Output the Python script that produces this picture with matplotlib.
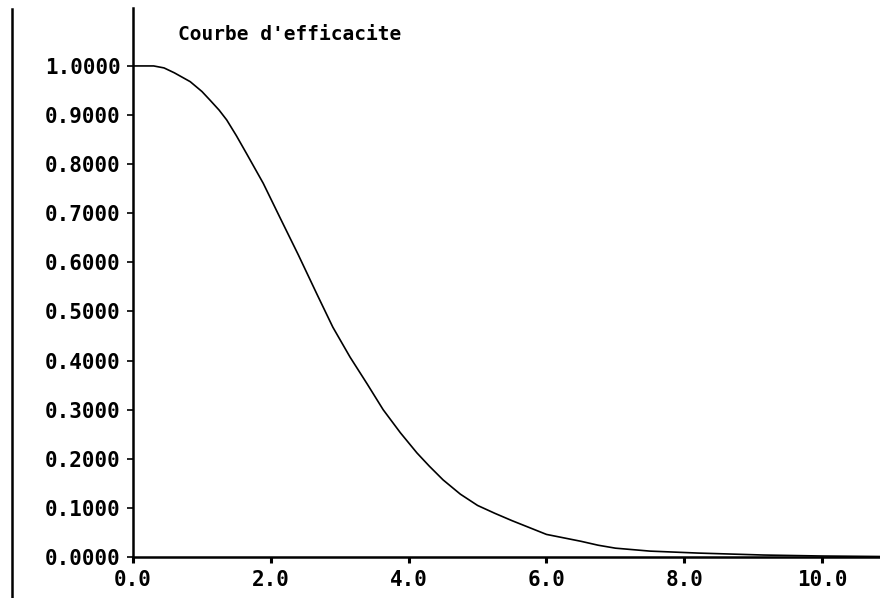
import matplotlib
matplotlib.use("Agg")
import matplotlib.pyplot as plt
from matplotlib.lines import Line2D

# Operating characteristic curve
x_vals = [0.0, 0.30, 0.45, 0.60, 0.83, 1.00, 1.12, 1.25, 1.36, 1.50, 1.65, 1.89,
          2.13, 2.40, 2.67, 2.90, 3.15, 3.40, 3.63, 3.88, 4.12, 4.30, 4.50,
          4.75, 5.00, 5.25, 5.50, 5.75, 6.00, 6.25, 6.50, 6.75, 7.00, 7.50,
          8.20, 9.15, 10.0, 10.84]
y_vals = [1.0, 1.0, 0.996, 0.986, 0.968, 0.948, 0.930, 0.910, 0.890, 0.858,
          0.821, 0.761, 0.692, 0.615, 0.535, 0.468, 0.407, 0.352, 0.300, 0.253,
          0.212, 0.185, 0.157, 0.128, 0.105, 0.089, 0.074, 0.060, 0.046, 0.039,
          0.032, 0.024, 0.018, 0.012, 0.008, 0.004, 0.002, 0.001]

x_ticks = [0, 2, 4, 6, 8, 10]
x_labels = ["0.0", "2.0", "4.0", "6.0", "8.0", "10.0"]
y_ticks = [0.0, 0.1, 0.2, 0.3, 0.4, 0.5, 0.6, 0.7, 0.8, 0.9, 1.0]
y_labels = ["%.4f" % v for v in y_ticks]
title = "Courbe d'efficacite"

font = "DejaVu Sans Mono"

fig = plt.figure(figsize=(8.8, 5.98), dpi=100)
ax = fig.add_axes([133 / 880, 41 / 598, 1 - 133 / 880, 549 / 598])

ax.plot(x_vals, y_vals, color="black", linewidth=1.2)

ax.set_xlim(0, 10.84)
ax.set_ylim(0, 1.118)

ax.set_xticks(x_ticks)
ax.set_xticklabels(x_labels, fontfamily=font, fontweight="bold", fontsize=15)
ax.set_yticks(y_ticks)
ax.set_yticklabels(y_labels, fontfamily=font, fontweight="bold", fontsize=15)

ax.tick_params(axis="x", direction="out", length=4, width=2.2, pad=5)
ax.tick_params(axis="y", direction="out", length=4, width=1.2, pad=5)

for side in ["top", "right"]:
    ax.spines[side].set_visible(False)
ax.spines["left"].set_linewidth(1.8)
ax.spines["bottom"].set_linewidth(1.8)

# left border line of the screen dump
fig.add_artist(Line2D([12 / 880, 12 / 880], [0, 1 - 9 / 598],
                      transform=fig.transFigure, color="black", linewidth=1.8))

fig.text(178 / 880, 1 - 35 / 598, title, fontfamily=font, fontweight="bold",
         fontsize=14, va="center", ha="left")

fig.savefig("out.png", dpi=100)
